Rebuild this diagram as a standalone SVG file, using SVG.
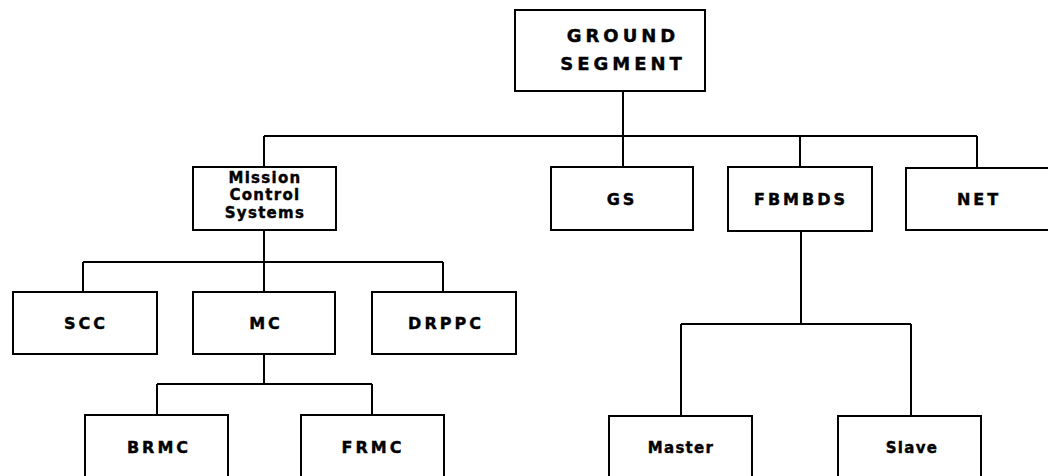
<svg xmlns="http://www.w3.org/2000/svg" width="1048" height="476" viewBox="0 0 1048 476">
<style>
.box{fill:#fff;stroke:#000;stroke-width:2}
.ln{fill:none;stroke:#000;stroke-width:2}
.t{font-family:"DejaVu Sans","Liberation Sans",Arial,sans-serif;font-weight:bold;font-size:16px;letter-spacing:3px;text-anchor:middle;fill:#000;stroke:#000;stroke-width:0.4}
.big{font-size:18px;letter-spacing:4px}
.mix{font-size:15px;letter-spacing:1.3px}
</style>
<rect width="1048" height="476" fill="#fff"/>
<g id="connectors">
<path class="ln" d="M623 91V167M264 136H977M264 136V167M800 136V167M977 136V168"/>
<path class="ln" d="M264 230V262M83 262H443M83 262V292M264 262V292M443 262V292"/>
<path class="ln" d="M264 354V384M157 384H372M157 384V415M372 384V415"/>
<path class="ln" d="M801 231V324M681 324H911M681 324V416M911 324V416"/>
</g>
<g id="ground"><rect class="box" x="515" y="10" width="190" height="81"/><text class="t big" x="623" y="42">GROUND</text><text class="t big" x="623" y="70">SEGMENT</text></g>
<g id="mcs"><rect class="box" x="193" y="167" width="143" height="63"/><text class="t mix" x="265" y="183">Mission</text><text class="t mix" x="265" y="200">Control</text><text class="t mix" x="265" y="218">Systems</text></g>
<g id="gs"><rect class="box" x="551" y="167" width="142" height="63"/><text class="t" x="622" y="205">GS</text></g>
<g id="fbmbds"><rect class="box" x="728" y="167" width="144" height="64"/><text class="t" x="801" y="205">FBMBDS</text></g>
<g id="net"><rect class="box" x="906" y="168" width="150" height="62"/><text class="t" x="979" y="205">NET</text></g>
<g id="scc"><rect class="box" x="13" y="292" width="144" height="62"/><text class="t" x="86" y="329">SCC</text></g>
<g id="mc"><rect class="box" x="193" y="292" width="142" height="62"/><text class="t" x="266" y="329">MC</text></g>
<g id="drppc"><rect class="box" x="372" y="292" width="144" height="62"/><text class="t" x="446" y="329">DRPPC</text></g>
<g id="brmc"><rect class="box" x="85" y="415" width="143" height="70"/><text class="t" x="159" y="453">BRMC</text></g>
<g id="frmc"><rect class="box" x="301" y="415" width="143" height="70"/><text class="t" x="373" y="453">FRMC</text></g>
<g id="master"><rect class="box" x="609" y="416" width="143" height="70"/><text class="t mix" x="681" y="453">Master</text></g>
<g id="slave"><rect class="box" x="838" y="416" width="143" height="70"/><text class="t mix" x="912" y="453">Slave</text></g>
</svg>
